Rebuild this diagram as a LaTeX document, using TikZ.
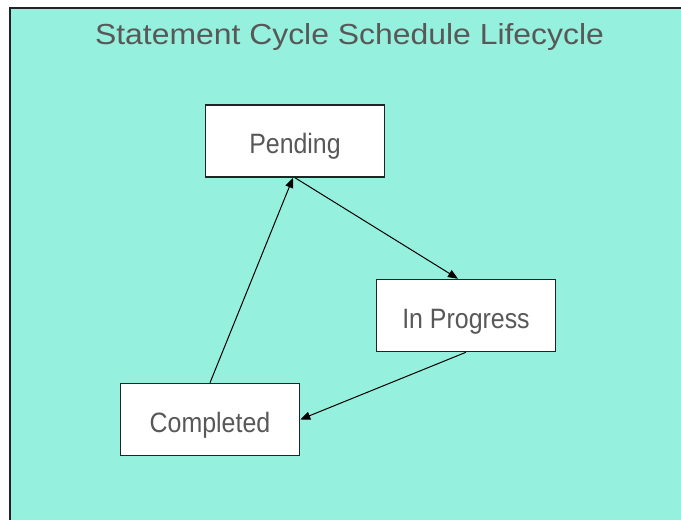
\documentclass[tikz,border=0pt]{standalone}
\usepackage{fontspec}
\usepackage{tikz}
\usetikzlibrary{arrows.meta,positioning}
\newfontfamily\titlefont[FakeStretch=1.1]{Liberation Sans}
\newfontfamily\boxfont[FakeStretch=0.89]{Liberation Sans}
\definecolor{bgteal}{RGB}{150,240,222}
\definecolor{textgray}{RGB}{88,88,88}
\definecolor{boxline}{RGB}{35,35,35}
\begin{document}
\begin{tikzpicture}[x=1pt,y=-1pt,box/.style={rectangle,draw=boxline,fill=white,line width=1.5pt,minimum width=179pt,minimum height=72pt,inner sep=0pt,text height=25pt,text depth=0pt,align=center,text=textgray,font=\boxfont\fontsize{28}{30}\selectfont},title/.style={text=textgray,inner sep=0pt,font=\titlefont\fontsize{29}{32}\selectfont},arrow/.style={-{Triangle[length=10pt,width=8pt]},line width=1pt}]
\useasboundingbox (0,0) rectangle (681,520);
\fill[bgteal] (10,8) rectangle (681,520);
\draw[boxline,line width=2pt] (10,520) -- (10,8) -- (681,8);
\node[title,anchor=base] (title) at (349.5,44) {Statement Cycle Schedule Lifecycle};
\node[box] (pend) at (295,141) {Pending};
\node[box] (prog) at (466,315.5) {In Progress};
\node[box] (comp) at (210,419.5) {Completed};
\draw[arrow] (pend.south) -- ([xshift=-8pt]prog.north); \draw[arrow] (prog.south) -- (comp.east); \draw[arrow] (comp.north) -- ([xshift=-2pt]pend.south);
\end{tikzpicture}
\end{document}
